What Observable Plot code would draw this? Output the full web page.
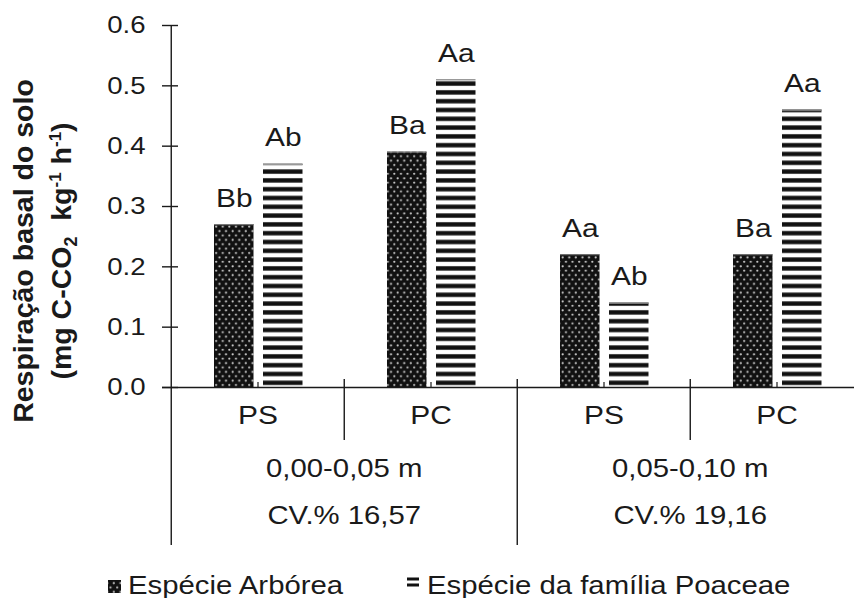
<!DOCTYPE html>
<html><head><meta charset="utf-8">
<script src="https://cdn.jsdelivr.net/npm/d3@7"></script>
<script src="https://cdn.jsdelivr.net/npm/@observablehq/plot@0.6"></script>
<style>
body{margin:0;background:#fff;}
</style></head><body><div id="chart"></div>
<script>
// ---- data ----
const depths = ["0,00-0,05 m", "0,05-0,10 m"];
const cvLabels = ["CV.% 16,57", "CV.% 19,16"];
const systems = ["PS", "PC"];
const seriesNames = ["Espécie Arbórea", "Espécie da família Poaceae"];
const arborea = [0.27, 0.39, 0.22, 0.22];
const poaceae = [0.37, 0.51, 0.14, 0.46];
const arboreaLetters = ["Bb", "Ba", "Aa", "Ba"];
const poaceaeLetters = ["Ab", "Aa", "Ab", "Aa"];
const yTicks = [0, 0.1, 0.2, 0.3, 0.4, 0.5, 0.6];
const yTitleLine1 = "Respiração basal do solo";
const yTitleLine2 = ["(mg C-CO", "2", "  kg", "-1", " h", "-1", ")"];

const rows = [];
depths.forEach((d, i) => systems.forEach((s, j) => {
  const k = i * systems.length + j;
  rows.push({key: d + "|" + s, depth: d, cv: cvLabels[i], system: s,
    arb: arborea[k], poa: poaceae[k], arbL: arboreaLetters[k], poaL: poaceaeLetters[k], j});
}));
const keys = rows.map(r => r.key);

// ---- layout ----
const W = 854, H = 598, mLeft = 170, mTop = 25, base = 387, xEnd = 864;
const bw = (xEnd - mLeft) / keys.length;
const barW = 40;
const arbIn = 43, poaIn = 92;
const ink = "#1a1a1a";
const sw = 1.4;

const svg = Plot.plot({
  width: W, height: H,
  marginLeft: mLeft, marginTop: mTop, marginBottom: H - base, marginRight: 0,
  style: {fontFamily: "'Liberation Sans', Arial, sans-serif", fontSize: "24px", color: ink, background: "white", overflow: "visible"},
  x: {domain: keys, range: [mLeft, xEnd], padding: 0, axis: null},
  y: {domain: [0, 0.6], axis: null},
  marks: [
    Plot.barY(rows, {x: "key", y: "arb", fill: "url(#dots)", insetLeft: arbIn, insetRight: bw - arbIn - barW}),
    Plot.barY(rows, {x: "key", y: "poa", fill: "url(#stripes)", insetLeft: poaIn, insetRight: bw - poaIn - barW}),
    Plot.tickY(rows, {x: "key", y: "arb", stroke: "#777", strokeWidth: 1.2, insetLeft: arbIn, insetRight: bw - arbIn - barW}),
    Plot.tickY(rows, {x: "key", y: "poa", stroke: "#999", strokeWidth: 1.5, insetLeft: poaIn, insetRight: bw - poaIn - barW}),
    Plot.text(rows, {x: "key", y: "arb", text: "arbL", dx: arbIn + barW / 2 - bw / 2, dy: -18, lineAnchor: "bottom", fontSize: 26}),
    Plot.text(rows, {x: "key", y: "poa", text: "poaL", dx: poaIn + barW / 2 - bw / 2, dy: -18, lineAnchor: "bottom", fontSize: 26}),
    // x axis line
    Plot.ruleY([0], {stroke: ink, strokeWidth: sw, insetLeft: -8}),
    // y axis line
    Plot.ruleX(rows.filter((r, i) => i === 0), {x: "key", dx: -bw / 2, stroke: ink, strokeWidth: sw, insetBottom: -158}),
    // group separator
    Plot.ruleX(rows.filter((r, i) => i > 0 && r.j === 0), {x: "key", dx: -bw / 2, stroke: ink, strokeWidth: sw, insetTop: base - mTop - 8, insetBottom: -158}),
    // system separators
    Plot.ruleX(rows.filter(r => r.j === 1), {x: "key", dx: -bw / 2, stroke: ink, strokeWidth: sw, insetTop: base - mTop - 8, insetBottom: -53}),
    // small centre ticks
    Plot.ruleX(rows, {x: "key", stroke: ink, strokeWidth: 1.2, insetTop: base - mTop - 5}),
    // y axis ticks + labels
    Plot.axisY({ticks: yTicks, tickSize: 16, dx: 8, tickPadding: 17, tickFormat: ".1f", fontSize: 24, stroke: ink, strokeWidth: sw, label: null}),
    // category labels
    Plot.text(rows, {x: "key", text: "system", frameAnchor: "bottom", dy: 36, fontSize: 26}),
    Plot.text(rows.filter(r => r.j === 1), {x: "key", text: "depth", dx: -bw / 2, frameAnchor: "bottom", dy: 89, fontSize: 25.5}),
    Plot.text(rows.filter(r => r.j === 1), {x: "key", text: "cv", dx: -bw / 2, frameAnchor: "bottom", dy: 136, fontSize: 25.5})
  ]
});

const S = d3.select(svg);
// widen horizontal text like the reference
S.selectAll("text").each(function () {
  const t = this.getAttribute("transform") || "";
  this.setAttribute("transform", (t + " scale(1.15,1)").trim());
});

// patterns
const defs = S.insert("defs", ":first-child");
const pd = defs.append("pattern").attr("id", "dots").attr("patternUnits", "userSpaceOnUse").attr("width", 6.6).attr("height", 8.8);
pd.append("rect").attr("width", 6.6).attr("height", 8.8).attr("fill", "#111");
pd.append("circle").attr("cx", 1.65).attr("cy", 2.2).attr("r", 1.1).attr("fill", "#d0d0d0");
pd.append("circle").attr("cx", 4.95).attr("cy", 6.6).attr("r", 1.1).attr("fill", "#d0d0d0");
const pst = defs.append("pattern").attr("id", "stripes").attr("patternUnits", "userSpaceOnUse").attr("width", 10).attr("height", 8.8);
pst.append("rect").attr("width", 10).attr("height", 8.8).attr("fill", "#fff");
pst.append("rect").attr("y", 2.2).attr("width", 10).attr("height", 4.4).attr("fill", "#111");
const psl = defs.append("pattern").attr("id", "stripesLegend").attr("patternUnits", "objectBoundingBox").attr("width", 1).attr("height", 0.5);
psl.append("rect").attr("width", 12).attr("height", 6).attr("fill", "#fff");
psl.append("rect").attr("y", 1.5).attr("width", 12).attr("height", 3).attr("fill", "#111");

// y title
const tf = "'Liberation Sans', Arial, sans-serif";
S.append("text").attr("font-family", tf).attr("font-weight", "bold").attr("font-size", 28.5).attr("fill", ink)
  .attr("text-anchor", "middle").attr("transform", "translate(33,251) rotate(-90)").text(yTitleLine1);
const t2 = S.append("text").attr("font-family", tf).attr("font-weight", "bold").attr("font-size", 28.5).attr("fill", ink)
  .attr("text-anchor", "middle").attr("transform", "translate(71,251) rotate(-90)").style("white-space", "pre");
const shifts = [0, 6, -6, -10, 10, -10, 10];
const sizes = [28.5, 18, 28.5, 17, 28.5, 17, 28.5];
yTitleLine2.forEach((s, i) => t2.append("tspan").attr("dy", shifts[i]).attr("font-size", sizes[i]).text(s));

// legend
const lg = S.append("g").attr("font-family", tf).attr("font-size", 25.5).attr("fill", ink).attr("text-anchor", "start");
const items = [
  {x: 108, y: 580, s: 13, fill: "url(#dots)", tx: 128, name: seriesNames[0]},
  {x: 407, y: 576, s: 12, fill: "url(#stripesLegend)", tx: 427, name: seriesNames[1]}
];
items.forEach(it => {
  lg.append("rect").attr("x", it.x).attr("y", it.y).attr("width", it.s).attr("height", it.s).attr("fill", it.fill);
  lg.append("text").attr("text-anchor", "start").attr("transform", `translate(${it.tx},594) scale(1.15,1)`).text(it.name);
});

document.getElementById("chart").appendChild(svg);
</script></body></html>
